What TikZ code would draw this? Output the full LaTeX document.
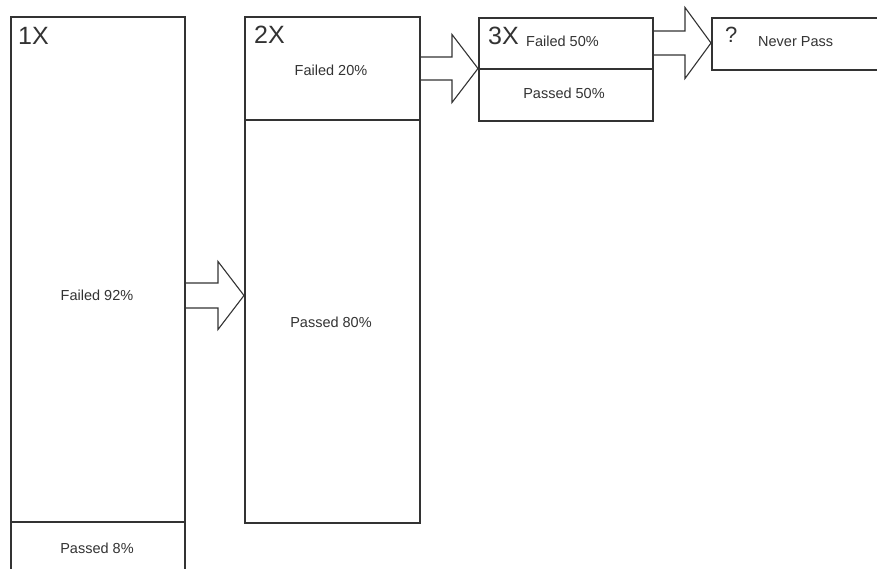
\documentclass[tikz,border=0pt]{standalone}
\usepackage{fontspec}
\setmainfont{Liberation Sans}
\usetikzlibrary{calc}
\definecolor{linec}{HTML}{333333}
\definecolor{textc}{HTML}{333333}
\tikzset{
  box/.style={draw=linec, line width=1.6pt, fill=none, inner sep=0pt, anchor=north west},
  divider/.style={draw=linec, line width=1.6pt},
  blockarrow/.style={draw=linec, line width=1.1pt, line join=miter},
  small/.style={text=textc, inner sep=0pt, font=\fontsize{14.5}{17}\selectfont},
  big/.style={text=textc, inner sep=0pt, anchor=base west, font=\fontsize{25}{28}\selectfont},
}
\newcommand\blockarr[4]{% start, tip, shaft half, head half
  \draw[blockarrow] ($(#1)+(0,-#3)$) -- ($(#2)+(-26,-#3)$) -- ($(#2)+(-26,-#4)$) -- (#2)
    -- ($(#2)+(-26,#4)$) -- ($(#2)+(-26,#3)$) -- ($(#1)+(0,#3)$);}
\begin{document}
\begin{tikzpicture}[x=1pt,y=-1pt]
\useasboundingbox (0,0) rectangle (877,569);
\clip (0,0) rectangle (877,569);
\fill[white] (0,0) rectangle (877,569);
% boxes
\node[box, minimum width=174pt, minimum height=600pt] (b1) at (10,16) {};
\node[box, minimum width=175pt, minimum height=506pt] (b2) at (244,16) {};
\node[box, minimum width=174pt, minimum height=103pt] (b3) at (478,17) {};
\node[box, minimum width=200pt, minimum height=52pt] (b4) at (711,17) {};
% dividers
\draw[divider] (b1.west |- 0,522) -- (b1.east |- 0,522);
\draw[divider] (b2.west |- 0,120) -- (b2.east |- 0,120);
\draw[divider] (b3.west |- 0,69) -- (b3.east |- 0,69);
% arrows
\coordinate (a1s) at (b1.east |- 0,295.5);
\coordinate (a1t) at (b2.west |- 0,295.5);
\coordinate (a2s) at (b2.east |- 0,68.5);
\coordinate (a2t) at (b3.west |- 0,68.5);
\coordinate (a3s) at (b3.east |- 0,43);
\coordinate (a3t) at (b4.west |- 0,43);
\blockarr{a1s}{a1t}{12.5}{34}
\blockarr{a2s}{a2t}{11.5}{34}
\blockarr{a3s}{a3t}{12}{35.5}
% labels
\node[big] (l1) at (18,45) {1X};
\node[big] (l2) at (254,44) {2X};
\node[big] (l3) at (488,45) {3X};
\node[big, font=\fontsize{22}{24}\selectfont] (l4) at (725,43) {?};
\node[small] (t1) at (97,295) {Failed 92\%};
\node[small] (t2) at (97,548) {Passed 8\%};
\node[small] (t3) at (331,70) {Failed 20\%};
\node[small] (t4) at (331,322) {Passed 80\%};
\node[small, anchor=base west] (t5) at (526,47) {Failed 50\%};
\node[small] (t6) at (564,93) {Passed 50\%};
\node[small, anchor=base west] (t7) at (758,47) {Never Pass};
\end{tikzpicture}
\end{document}
